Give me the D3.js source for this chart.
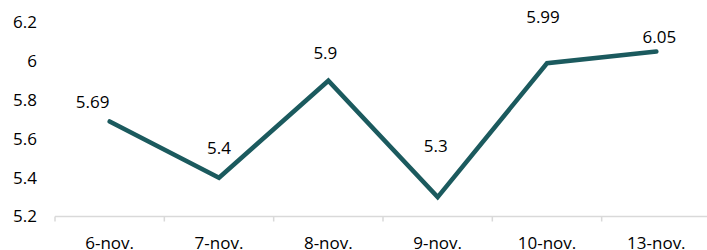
<!DOCTYPE html>
<html>
<head>
    <meta charset="utf-8">
    <title>nov line</title>
    <style>
        body { margin: 0; background: #fff; }
        text { font-family: "Open Sans", sans-serif; fill: #000; }
    </style>
</head>
<body>
    <svg width="707" height="250" id="mainsvg"></svg>
    <script src="https://d3js.org/d3.v7.min.js"></script>
    <script>
        const days = ['6-nov.', '7-nov.', '8-nov.', '9-nov.', '10-nov.', '13-nov.'];
        const values = [5.69, 5.4, 5.9, 5.3, 5.99, 6.05];
        const yTicks = [5.2, 5.4, 5.6, 5.8, 6, 6.2];
        // label nudges (px), picked by eye
        const labelDx = [-17, 0, -3, -2, -4, 3];
        const labelDy = [-19, -30, -28, -51, -46, -15];

        const svg = d3.select('#mainsvg');
        const margin = { left: 55, right: -4, top: 22.5, bottom: 33.5 };
        const width = +svg.attr('width');
        const height = +svg.attr('height');

        const xScale = d3.scaleBand()
            .domain(days)
            .range([margin.left, width - margin.right]);

        const yScale = d3.scaleLinear()
            .domain([5.2, 6.2])
            .range([height - margin.bottom, margin.top]);

        // y labels, no axis line
        svg.append('g').selectAll('text')
            .data(yTicks)
            .join('text')
            .attr('x', 37)
            .attr('y', d => yScale(d))
            .attr('dy', '0.35em')
            .attr('text-anchor', 'end')
            .attr('font-size', '17px')
            .text(d => d);

        // x axis
        const xAxis = svg.append('g')
            .attr('transform', `translate(0, ${yScale(5.2)})`);
        xAxis.append('line')
            .attr('x1', xScale.range()[0])
            .attr('x2', xScale.range()[1])
            .attr('stroke', '#d9d9d9')
            .attr('stroke-width', 1.5);
        xAxis.selectAll('.tk')
            .data(days)
            .join('line')
            .attr('class', 'tk')
            .attr('x1', d => xScale(d))
            .attr('x2', d => xScale(d))
            .attr('y1', 0)
            .attr('y2', 5)
            .attr('stroke', '#d9d9d9')
            .attr('stroke-width', 1.5);
        xAxis.selectAll('text')
            .data(days)
            .join('text')
            .attr('x', d => xScale(d) + xScale.bandwidth() / 2)
            .attr('y', 32)
            .attr('text-anchor', 'middle')
            .attr('font-size', '17px')
            .text(d => d);

        const line = d3.line()
            .x((d, i) => xScale(days[i]) + xScale.bandwidth() / 2)
            .y(d => yScale(d));

        svg.append('path')
            .datum(values)
            .attr('fill', 'none')
            .attr('stroke', '#1b5a5e')
            .attr('stroke-width', 4.5)
            .attr('stroke-linejoin', 'miter')
            .attr('stroke-linecap', 'round')
            .attr('d', line);

        svg.append('g').selectAll('text')
            .data(values)
            .join('text')
            .attr('x', (d, i) => xScale(days[i]) + xScale.bandwidth() / 2 + labelDx[i])
            .attr('y', (d, i) => yScale(d) + labelDy[i])
            .attr('dy', '0.35em')
            .attr('text-anchor', 'middle')
            .attr('font-size', '17px')
            .text(d => d);
    </script>
</body>
</html>
